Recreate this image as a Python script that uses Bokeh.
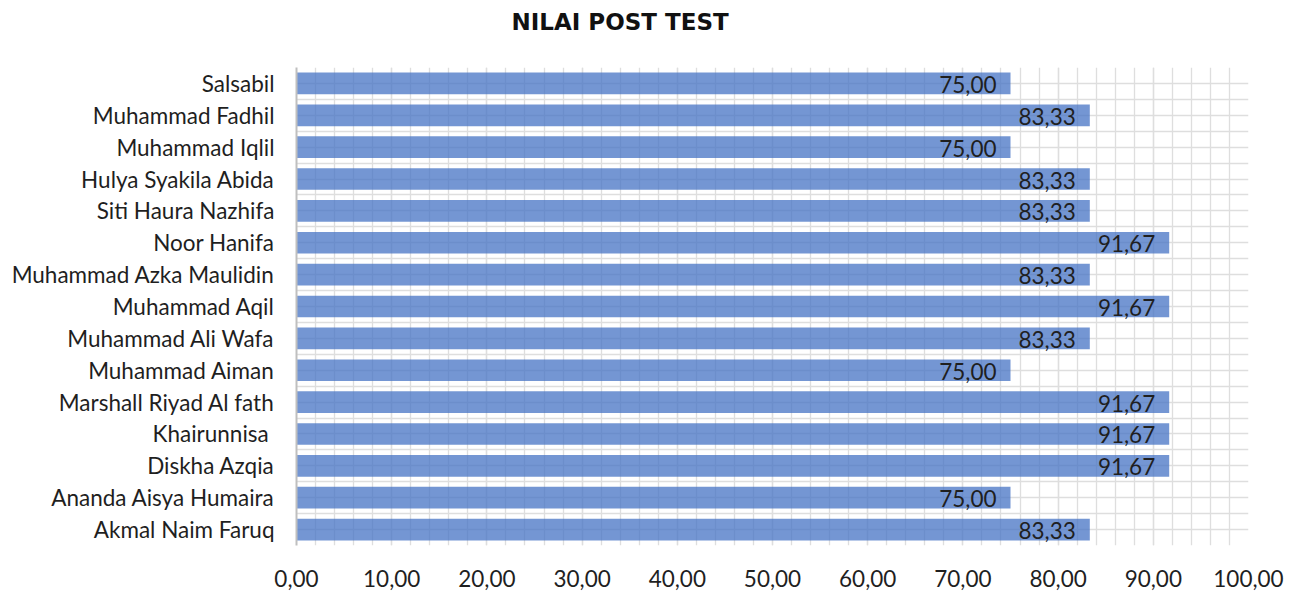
from bokeh.plotting import figure
from bokeh.models import ColumnDataSource, FixedTicker, Title
from bokeh.core.properties import value
from bokeh.embed import file_html
from bokeh.resources import INLINE

names = ["Akmal Naim Faruq", "Ananda Aisya Humaira", "Diskha Azqia", "Khairunnisa ",
         "Marshall Riyad Al fath", "Muhammad Aiman", "Muhammad Ali Wafa", "Muhammad Aqil",
         "Muhammad Azka Maulidin", "Noor Hanifa", "Siti Haura Nazhifa", "Hulya Syakila Abida",
         "Muhammad Iqlil", "Muhammad Fadhil", "Salsabil"]
scores = [83.33, 75.00, 91.67, 91.67, 91.67, 75.00, 83.33, 91.67,
          83.33, 91.67, 83.33, 83.33, 75.00, 83.33, 75.00]
x_ticks = [0, 10, 20, 30, 40, 50, 60, 70, 80, 90, 100]
x_tick_labels = ["0,00", "10,00", "20,00", "30,00", "40,00", "50,00",
                 "60,00", "70,00", "80,00", "90,00", "100,00"]
title_text = "NILAI POST TEST"

FONT = "Lato"
FS = "22.5px"
TXT = "#1f1f1f"
pos = [i + 0.5 for i in range(len(names))]
src = ColumnDataSource(dict(
    y=pos, v=scores, name=names,
    lab=[f"{s:.2f}".replace(".", ",") for s in scores],
))

p = figure(width=1285, height=592, x_range=(0, 100), y_range=(0, len(names)),
           output_backend="svg", toolbar_location=None, title_location=None,
           min_border_left=296, min_border_right=37, min_border_bottom=47, min_border_top=0)
p.outline_line_color = None
p.background_fill_color = "white"
p.border_fill_color = "white"

# spacer between the plot area and the title, then the title itself
p.add_layout(Title(text=" ", text_font_size="1px", standoff=20), "above")
p.add_layout(Title(text=title_text, align="left", offset=215, standoff=16, vertical_align="top",
                   text_font="DejaVu Sans", text_font_size="23px", text_font_style="bold",
                   text_color="#111111"), "above")

# grids
GC = "#dedede"
p.xgrid.ticker = FixedTicker(ticks=list(range(0, 101, 10)), minor_ticks=list(range(0, 101, 2)))
p.xgrid.grid_line_color = GC
p.xgrid.grid_line_width = 1.3
p.xgrid.minor_grid_line_color = GC
p.xgrid.minor_grid_line_width = 1.3
p.ygrid.ticker = FixedTicker(ticks=[i * 0.5 for i in range(2 * len(names) + 1)])
p.ygrid.grid_line_color = GC
p.ygrid.grid_line_width = 1.3

p.hbar(y="y", right="v", left=0, height=0.68, source=src,
       fill_color="#4472C4", fill_alpha=0.74, line_color=None)

p.text(x="v", y="y", text="lab", source=src, text_align="right", text_baseline="middle",
       x_offset=-14, y_offset=1, text_font=value(FONT), text_font_size=FS, text_color=TXT)

# x axis
xa = p.xaxis[0]
xa.ticker = FixedTicker(ticks=x_ticks)
xa.major_label_overrides = {t: l for t, l in zip(x_ticks, x_tick_labels)}
xa.axis_line_color = None
xa.major_tick_line_color = None
xa.minor_tick_line_color = None
xa.major_label_standoff = 18
xa.major_label_text_font = FONT
xa.major_label_text_font_size = FS
xa.major_label_text_color = TXT

# y axis
ya = p.yaxis[0]
ya.ticker = FixedTicker(ticks=pos)
ya.major_label_overrides = {y: n for y, n in zip(pos, names)}
ya.axis_line_color = "#bfbfbf"
ya.axis_line_width = 2
ya.major_tick_line_color = None
ya.minor_tick_line_color = None
ya.major_label_standoff = 16
ya.major_label_text_font = FONT
ya.major_label_text_font_size = FS
ya.major_label_text_color = TXT

open("out.html", "w").write(file_html(p, INLINE))
